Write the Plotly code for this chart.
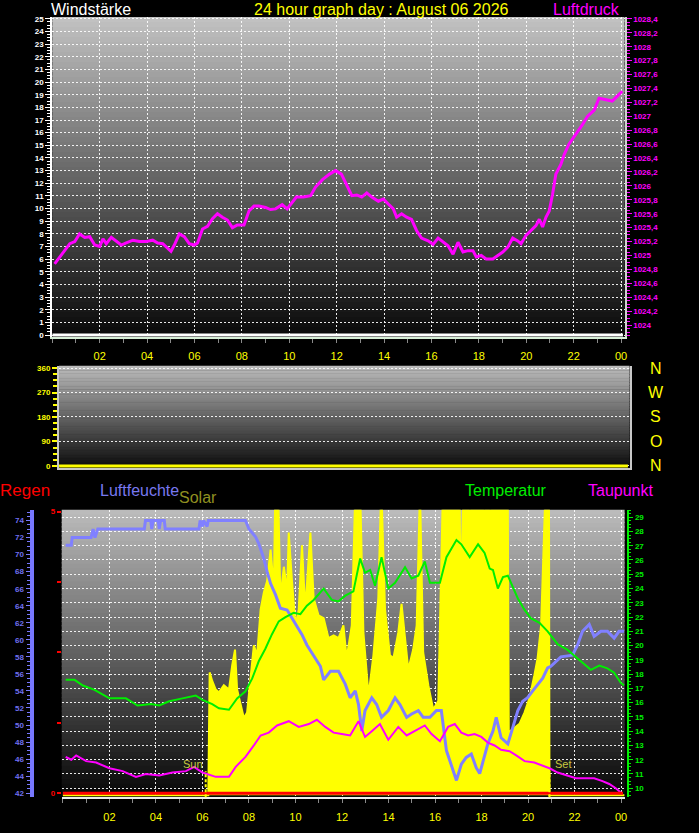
import plotly.graph_objects as go

# ---------------- data ----------------
hour_ticks = [2, 4, 6, 8, 10, 12, 14, 16, 18, 20, 22, 24]
hour_labels = ["02", "04", "06", "08", "10", "12", "14", "16", "18", "20", "22", "00"]

# wind speed / direction and rain are flat zero for the whole day
day_t = [0, 24.08]
wind_speed = [0, 0]
wind_dir = [0, 0]
rain = [0, 0]

# Luftdruck (hPa)
press_t = [0.1, 0.32, 0.53, 0.74, 0.95, 1.15, 1.37, 1.58, 1.79, 2.0, 2.14, 2.28, 2.49, 2.70,
           2.91, 3.12, 3.40, 3.68, 3.96, 4.24, 4.45, 4.66, 4.87, 5.01, 5.15, 5.36, 5.57, 5.78,
           5.99, 6.13, 6.34, 6.55, 6.76, 6.97, 7.18, 7.39, 7.60, 7.81, 8.09, 8.30, 8.51, 8.72,
           9.00, 9.21, 9.42, 9.70, 9.91, 10.1, 10.3, 10.6, 10.9, 11.1, 11.4, 11.7, 11.95, 12.2,
           12.43, 12.64, 12.85, 13.06, 13.27, 13.48, 13.76, 13.97, 14.18, 14.39, 14.53, 14.74,
           14.95, 15.16, 15.37, 15.58, 15.86, 16.07, 16.28, 16.49, 16.70, 16.91, 17.12, 17.33,
           17.54, 17.75, 17.89, 18.10, 18.31, 18.59, 18.80, 19.01, 19.22, 19.43, 19.64, 19.78,
           19.99, 20.20, 20.41, 20.55, 20.69, 20.83, 20.97, 21.11, 21.25, 21.46, 21.6, 21.8,
           22.1, 22.37, 22.58, 22.87, 23.07, 23.35, 23.63, 23.84, 24.05]
press = [1024.88, 1024.98, 1025.09, 1025.17, 1025.20, 1025.31, 1025.26, 1025.27, 1025.15,
         1025.13, 1025.24, 1025.17, 1025.26, 1025.20, 1025.15, 1025.18, 1025.22, 1025.20,
         1025.20, 1025.22, 1025.18, 1025.17, 1025.11, 1025.06, 1025.15, 1025.31, 1025.27,
         1025.17, 1025.15, 1025.18, 1025.38, 1025.42, 1025.53, 1025.60, 1025.55, 1025.51,
         1025.40, 1025.44, 1025.44, 1025.64, 1025.71, 1025.71, 1025.69, 1025.66, 1025.67,
         1025.73, 1025.67, 1025.75, 1025.84, 1025.84, 1025.86, 1025.98, 1026.09, 1026.17,
         1026.22, 1026.17, 1026.02, 1025.86, 1025.87, 1025.84, 1025.90, 1025.84, 1025.78,
         1025.81, 1025.74, 1025.67, 1025.55, 1025.60, 1025.55, 1025.52, 1025.36, 1025.25,
         1025.21, 1025.16, 1025.25, 1025.20, 1025.14, 1025.02, 1025.19, 1025.05, 1025.07,
         1025.07, 1024.98, 1025.00, 1024.95, 1024.95, 1025.00, 1025.05, 1025.12, 1025.25,
         1025.21, 1025.17, 1025.29, 1025.36, 1025.43, 1025.52, 1025.41, 1025.55, 1025.64,
         1025.88, 1026.17, 1026.31, 1026.45, 1026.60, 1026.74, 1026.88, 1027.00, 1027.09,
         1027.26, 1027.24, 1027.22, 1027.29, 1027.36]

# Luftfeuchte (%)
hum_t = [0.12, 0.36, 0.40, 1.21, 1.30, 1.38, 1.50, 3.50, 3.55, 3.78, 3.82, 3.88, 4.10, 4.14,
         4.20, 4.36, 4.40, 5.85, 5.90, 6.00, 6.05, 6.20, 6.25, 7.85, 8.00, 8.28, 8.42, 8.64,
         8.78, 8.93, 9.14, 9.35, 9.64, 9.85, 10.06, 10.28, 10.49, 10.78, 11.07, 11.21, 11.50,
         11.85, 12.14, 12.35, 12.57, 12.71, 12.85, 12.99, 13.28, 13.49, 13.70, 13.99, 14.28,
         14.49, 14.78, 14.99, 15.28, 15.49, 15.78, 16.06, 16.27, 16.49, 16.70, 16.92, 17.13,
         17.34, 17.56, 17.77, 17.92, 18.06, 18.27, 18.49, 18.63, 18.84, 19.13, 19.34, 19.56,
         19.77, 19.98, 20.20, 20.41, 20.63, 20.84, 20.98, 21.41, 21.91, 22.13, 22.34, 22.63,
         22.84, 23.13, 23.41, 23.70, 23.91, 24.13]
hum = [71.1, 71.1, 72.0, 72.0, 73.0, 72.0, 73.0, 73.0, 74.0, 74.0, 73.0, 74.0, 74.0, 73.0,
       74.0, 74.0, 73.0, 73.0, 74.0, 73.3, 74.0, 73.3, 74.0, 74.0, 73.0, 72.1, 71.3, 69.5,
       68.0, 66.6, 65.3, 63.7, 63.5, 62.5, 61.6, 60.6, 59.4, 58.1, 56.9, 55.3, 56.3, 56.3,
       54.8, 53.2, 54.0, 52.4, 49.3, 51.7, 53.2, 52.4, 50.9, 51.7, 53.2, 52.4, 50.9, 51.3,
       51.7, 50.9, 50.9, 51.7, 51.7, 47.0, 45.4, 43.5, 45.4, 46.2, 46.6, 45.0, 44.3, 45.8,
       47.8, 49.3, 50.9, 48.5, 47.8, 49.7, 51.7, 52.8, 53.2, 54.0, 54.8, 55.5, 56.7, 56.9,
       58.0, 58.2, 59.4, 61.0, 61.8, 60.4, 61.0, 61.0, 60.2, 61.0, 61.0]

# Temperatur (°C)
temp_t = [0.12, 0.50, 0.86, 1.36, 2.00, 2.71, 3.21, 3.79, 4.14, 4.57, 5.14, 5.71, 6.00, 6.42,
          6.71, 7.14, 7.49, 7.85, 8.14, 8.42, 8.71, 8.99, 9.28, 9.57, 9.92, 10.21, 10.49,
          10.78, 11.21, 11.56, 11.85, 12.14, 12.49, 12.78, 12.99, 13.21, 13.42, 13.70, 13.99,
          14.28, 14.71, 14.99, 15.28, 15.56, 15.78, 16.21, 16.49, 16.92, 17.13, 17.49, 17.85,
          18.13, 18.35, 18.49, 18.70, 18.92, 19.13, 19.34, 19.56, 19.85, 20.13, 20.49, 20.84,
          21.27, 21.70, 22.13, 22.42, 22.70, 23.06, 23.41, 23.70, 23.98, 24.13]
temp = [17.6, 17.6, 17.2, 16.9, 16.3, 16.3, 15.8, 15.9, 15.8, 16.1, 16.3, 16.5, 16.2, 15.9,
        15.6, 15.5, 16.3, 16.8, 17.7, 18.9, 19.8, 20.8, 21.7, 22.0, 22.3, 22.2, 22.8, 23.2,
        24.0, 23.2, 23.1, 23.5, 23.8, 26.1, 25.1, 25.3, 24.2, 26.2, 24.0, 24.4, 25.5, 24.7,
        24.9, 25.9, 24.4, 24.4, 26.2, 27.4, 27.1, 26.2, 27.1, 26.5, 25.4, 25.3, 24.0, 24.8,
        24.9, 24.1, 23.3, 22.5, 21.9, 21.6, 21.0, 20.1, 19.7, 19.1, 18.7, 18.3, 18.6, 18.4,
        18.1, 17.4, 17.2]

# Taupunkt (°C)
dew_t = [0.12, 0.36, 0.57, 1.00, 1.43, 2.00, 2.57, 3.14, 3.57, 4.14, 4.71, 5.29, 5.64, 6.00,
         6.57, 7.14, 7.43, 7.85, 8.21, 8.50, 8.85, 9.21, 9.71, 10.14, 10.57, 10.92, 11.28,
         11.64, 11.99, 12.35, 12.71, 12.99, 13.28, 13.63, 13.99, 14.42, 14.78, 15.13, 15.56,
         15.85, 16.21, 16.56, 16.85, 17.13, 17.42, 17.70, 17.99, 18.27, 18.56, 18.84, 19.20,
         19.49, 19.85, 20.27, 20.63, 20.92, 21.27, 21.70, 22.06, 22.42, 22.84, 23.20, 23.49,
         23.77, 24.06]
dew = [12.2, 12.0, 12.3, 11.9, 11.8, 11.4, 11.2, 10.8, 11.0, 10.9, 11.1, 11.2, 11.5, 11.1,
       10.8, 10.8, 11.5, 12.2, 13.0, 13.7, 13.9, 14.4, 14.7, 14.3, 14.5, 14.8, 14.3, 13.9,
       13.8, 13.7, 14.7, 13.6, 14.0, 14.5, 13.4, 14.3, 13.7, 14.0, 14.4, 13.8, 13.3, 14.3,
       14.5, 13.9, 13.7, 13.8, 13.6, 13.2, 13.0, 12.7, 12.6, 12.3, 11.9, 11.8, 11.6, 11.4,
       11.1, 10.9, 10.7, 10.7, 10.7, 10.5, 10.3, 10.0, 9.6]

# Solar, relative to the panel height (1 = clipped at the top)
solar_t = [0.00, 6.25, 6.31, 6.42, 6.57, 6.71, 6.92, 7.14, 7.28, 7.40, 7.49, 7.64, 7.78, 7.92,
           8.07, 8.21, 8.35, 8.50, 8.64, 8.78, 8.93, 9.07, 9.12, 9.27, 9.35, 9.50, 9.64, 9.71,
           9.85, 10.00, 10.14, 10.28, 10.42, 10.64, 10.78, 10.99, 11.21, 11.42, 11.64, 11.85,
           12.06, 12.20, 12.42, 12.55, 12.80, 12.92, 13.14, 13.35, 13.56, 13.66, 13.72, 13.85,
           14.06, 14.21, 14.42, 14.56, 14.71, 14.85, 15.06, 15.21, 15.33, 15.37, 15.49, 15.71,
           15.92, 16.14, 16.32, 17.06, 17.10, 17.20, 17.47, 17.50, 17.53, 18.10, 18.12, 18.15,
           18.35, 18.38, 18.41, 19.13, 19.17, 19.42, 19.63, 19.85, 20.06, 20.27, 20.41, 20.56,
           20.66, 20.72, 20.90, 20.92, 24.15]
solar = [0, 0, 0.43, 0.40, 0.37, 0.36, 0.385, 0.37, 0.455, 0.51, 0.37, 0.315, 0.27, 0.29,
         0.41, 0.525, 0.49, 0.65, 0.71, 0.75, 0.86, 0.72, 1.0, 1.0, 0.69, 0.80, 0.71, 0.92,
         0.75, 0.595, 0.65, 0.875, 0.65, 0.92, 0.69, 0.63, 0.62, 0.55, 0.56, 0.55, 0.595,
         0.48, 0.595, 1.0, 1.0, 0.57, 0.35, 0.49, 0.69, 1.0, 1.0, 0.65, 0.49, 0.48, 0.57,
         0.67, 0.55, 0.44, 0.51, 0.595, 1.0, 1.0, 0.50, 0.385, 0.30, 0.33, 1.0, 1.0, 0.69,
         1.0, 1.0, 0.60, 1.0, 1.0, 0.20, 1.0, 1.0, 0.15, 1.0, 1.0, 0.22, 0.235, 0.25, 0.29,
         0.34, 0.42, 0.48, 0.595, 0.84, 1.0, 1.0, 0, 0]

sunrise = 6.14
sunset = 20.92

# axis ticks
wind_ticks = list(range(0, 26))
press_ticks = [1024.0, 1024.2, 1024.4, 1024.6, 1024.8, 1025.0, 1025.2, 1025.4, 1025.6, 1025.8,
               1026.0, 1026.2, 1026.4, 1026.6, 1026.8, 1027.0, 1027.2, 1027.4, 1027.6, 1027.8,
               1028.0, 1028.2, 1028.4]
press_labels = ["1024", "1024,2", "1024,4", "1024,6", "1024,8", "1025", "1025,2", "1025,4",
                "1025,6", "1025,8", "1026", "1026,2", "1026,4", "1026,6", "1026,8", "1027",
                "1027,2", "1027,4", "1027,6", "1027,8", "1028", "1028,2", "1028,4"]
dir_ticks = [0, 90, 180, 270, 360]
dir_labels = ["N", "O", "S", "W", "N"]
hum_ticks = list(range(42, 75, 2))
temp_ticks = list(range(10, 30))
rain_ticks = [0, 1.25, 2.5, 3.75, 5]
rain_labels = ["0", "", "", "", "5"]

# ---------------- layout helpers ----------------
W, H = 699, 833
FONT = "Liberation Sans, Arial, sans-serif"
GRID = dict(showgrid=True, gridcolor="rgba(255,255,255,0.9)", gridwidth=1, griddash="2px,2px")
MAGENTA = "#ff00ff"
YELLOW = "#ffff00"
GREEN = "#00ee00"
BLUE = "#8080ff"


def px_x(p):
    return p / W


def px_y(p):
    return 1 - p / H


def add_gradient(fig, xref, yref, top_grey, bottom_grey, n=64):
    for i in range(n):
        g = round(bottom_grey + (top_grey - bottom_grey) * (i + 0.5) / n)
        fig.add_shape(type="rect", xref=xref + " domain", yref=yref + " domain",
                      x0=0, x1=1, y0=i / n, y1=min(1, (i + 1.3) / n),
                      fillcolor=f"rgb({g},{g},{g})", line_width=0, layer="below")


fig = go.Figure()

# top panel: Windstärke / Luftdruck
fig.add_trace(go.Scatter(x=day_t, y=wind_speed, xaxis="x", yaxis="y", mode="lines",
                         line=dict(color="white", width=3), name="Windstärke"))
fig.add_trace(go.Scatter(x=press_t, y=press, xaxis="x", yaxis="y2", mode="lines",
                         line=dict(color=MAGENTA, width=3), name="Luftdruck"))

# middle panel: wind direction
fig.add_trace(go.Scatter(x=day_t, y=wind_dir, xaxis="x2", yaxis="y3", mode="lines",
                         line=dict(color=YELLOW, width=3), name="Windrichtung"))

# bottom panel
fig.add_trace(go.Scatter(x=solar_t, y=solar, xaxis="x3", yaxis="y5", mode="lines",
                         fill="tozeroy", fillcolor=YELLOW,
                         line=dict(color=YELLOW, width=2), name="Solar"))
fig.add_trace(go.Scatter(x=hum_t, y=hum, xaxis="x3", yaxis="y6", mode="lines",
                         line=dict(color=BLUE, width=3), name="Luftfeuchte"))
fig.add_trace(go.Scatter(x=temp_t, y=temp, xaxis="x3", yaxis="y7", mode="lines",
                         line=dict(color=GREEN, width=2), name="Temperatur"))
fig.add_trace(go.Scatter(x=dew_t, y=dew, xaxis="x3", yaxis="y7", mode="lines",
                         line=dict(color=MAGENTA, width=2), name="Taupunkt"))
fig.add_trace(go.Scatter(x=day_t, y=rain, xaxis="x3", yaxis="y8", mode="lines",
                         line=dict(color="#ff0000", width=3), name="Regen"))

add_gradient(fig, "x", "y", 194, 8)
add_gradient(fig, "x2", "y3", 188, 10)
add_gradient(fig, "x3", "y5", 188, 6)

small = dict(family=FONT, size=8, weight="bold")
hour_font = dict(family=FONT, size=11, color=YELLOW)
hour_minor = dict(dtick=1, ticks="outside", ticklen=4, tickcolor="#8a8a8a", showgrid=False)

fig.update_layout(
    width=W, height=H, margin=dict(l=0, r=0, t=0, b=0),
    paper_bgcolor="black", plot_bgcolor="black",
    showlegend=False, hovermode=False,
    font=dict(family=FONT),
    xaxis=dict(domain=[px_x(52.5), px_x(627.3)], range=[0, 24.15], anchor="y",
               tickmode="array", tickvals=hour_ticks, ticktext=hour_labels, tickfont=hour_font,
               ticklabelstandoff=4,
               showline=True, linecolor="#d6eed6", linewidth=2, ticks="outside", ticklen=4,
               tickcolor="#8a8a8a", minor=hour_minor, zeroline=False, **GRID),
    yaxis=dict(domain=[px_y(337), px_y(15)], range=[-0.15, 25.15], anchor="x",
               tickmode="array", tickvals=wind_ticks, tickfont=dict(color="white", **small),
               showline=True, linecolor="white", linewidth=2, ticks="outside", ticklen=5,
               tickcolor="white",
               minor=dict(dtick=0.25, ticks="outside", ticklen=3, tickcolor="white", showgrid=False),
               zeroline=False, **GRID),
    yaxis2=dict(overlaying="y", side="right", anchor="x", range=[1023.829, 1028.429],
                tickmode="array", tickvals=press_ticks, ticktext=press_labels,
                tickfont=dict(color=MAGENTA, **small), showgrid=False, zeroline=False,
                showline=True, linecolor="#d0d0d0", linewidth=2, ticks="outside", ticklen=5,
                tickcolor=MAGENTA,
                minor=dict(dtick=0.05, ticks="outside", ticklen=3, tickcolor=MAGENTA)),
    xaxis2=dict(domain=[px_x(59.3), px_x(632.3)], range=[0, 24.15], anchor="y3",
                showticklabels=False, ticks="", showgrid=False, zeroline=False,
                showline=True, linecolor="#c8c8c8", linewidth=2),
    yaxis3=dict(domain=[px_y(469.3), px_y(366)], range=[-9.5, 368.4], anchor="x2",
                tickmode="array", tickvals=dir_ticks, tickfont=dict(color=YELLOW, **small),
                showline=True, linecolor="#c8c8c8", linewidth=2, mirror=True,
                ticks="outside", ticklen=5, tickwidth=2, tickcolor=YELLOW,
                minor=dict(dtick=22.5, ticks="outside", ticklen=4, tickwidth=2,
                           tickcolor=YELLOW, showgrid=False),
                zeroline=False, **GRID),
    xaxis3=dict(domain=[px_x(62), px_x(627.3)], range=[-0.05, 24.15], anchor="y5",
                tickmode="array", tickvals=hour_ticks, ticktext=hour_labels, tickfont=hour_font,
                ticklabelstandoff=5,
                showline=True, linecolor="#eeeeee", linewidth=2, ticks="outside", ticklen=4,
                tickcolor="#8a8a8a", minor=hour_minor, zeroline=False, **GRID),
    yaxis5=dict(domain=[px_y(800), px_y(510.7)], range=[-0.007, 1.0], anchor="x3",
                showticklabels=False, ticks="", showgrid=False, zeroline=False, showline=False),
    yaxis6=dict(overlaying="y5", anchor="free", position=px_x(31.7), side="left",
                range=[41.53, 75.28], tickmode="array", tickvals=hum_ticks,
                tickfont=dict(color="#7070f0", **small), showgrid=False, zeroline=False,
                showline=True, linecolor="#7878ff", linewidth=4, ticks="outside", ticklen=4,
                tickcolor="#7878ff",
                minor=dict(dtick=0.5, ticks="outside", ticklen=3, tickcolor="#7878ff")),
    yaxis7=dict(overlaying="y5", anchor="free", position=px_x(631), side="right",
                range=[9.373, 29.53], tickmode="array", tickvals=temp_ticks,
                tickfont=dict(color=GREEN, **small), zeroline=False,
                showline=True, linecolor=GREEN, linewidth=2, ticks="outside", ticklen=4,
                tickcolor=GREEN,
                minor=dict(dtick=0.25, ticks="outside", ticklen=2, tickcolor=GREEN, showgrid=False),
                **GRID),
    yaxis8=dict(overlaying="y5", anchor="x3", side="left", range=[-0.0706, 5.035],
                tickmode="array", tickvals=rain_ticks, ticktext=rain_labels,
                tickfont=dict(color="#ff0000", **small), showgrid=False, zeroline=False,
                showline=False, ticks="outside", ticklen=4, tickwidth=2, tickcolor="#ff0000"),
)

# sunrise / sunset markers
for t in (sunrise, sunset):
    fig.add_shape(type="line", xref="x3", yref="y5 domain", x0=t, x1=t, y0=0, y1=0.09,
                  line=dict(color=YELLOW, width=2, dash="3px,2px"), layer="above")


def label(text, x, y, color, size=16, xanchor="left", xref="paper", yref="paper", xshift=0):
    fig.add_annotation(text=text, x=x, y=y, xref=xref, yref=yref, xanchor=xanchor,
                       yanchor="middle", showarrow=False, xshift=xshift,
                       font=dict(family=FONT, size=size, color=color))


label("Windstärke", px_x(49), px_y(8), "white")
label("24 hour graph day : August 06 2026", px_x(383), px_y(8), YELLOW, xanchor="center")
label("Luftdruck", px_x(625), px_y(8), MAGENTA, xanchor="right")
for v, s in zip(dir_ticks, dir_labels):
    label(s, px_x(658.7), v, YELLOW, xanchor="center", yref="y3")
label("Regen", px_x(-2), px_y(491), "#ff0000", size=17)
label("Luftfeuchte", px_x(98), px_y(491), "#7878f0")
label("Solar", px_x(178), px_y(498), "#909020")
label("Temperatur", px_x(465), px_y(491), GREEN)
label("Taupunkt", px_x(589), px_y(491), MAGENTA)
label("Sun", sunrise, px_y(767), "#c8c840", size=11, xanchor="right", xref="x3", xshift=-1)
label("Set", sunset, px_y(767), "#c8c840", size=11, xanchor="left", xref="x3", xshift=4)

fig.write_html("out.html", config={"displayModeBar": False},
               post_script="document.body.style.margin='0';document.body.style.background='black';")
